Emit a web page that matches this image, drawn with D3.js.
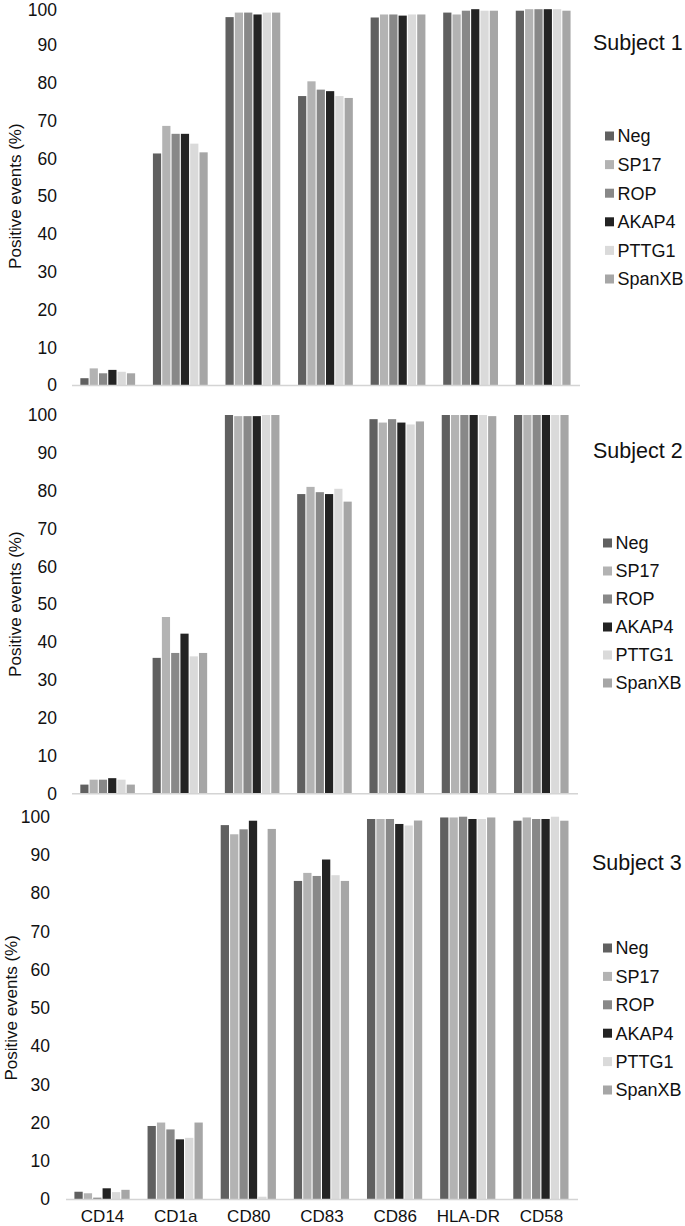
<!DOCTYPE html>
<html><head><meta charset="utf-8">
<script src="https://cdn.jsdelivr.net/npm/d3@7"></script>
<style>body{margin:0;background:#fff}svg{display:block;font-family:"Liberation Sans",Arial,sans-serif}</style>
</head><body><svg id="c" width="685" height="1226"></svg>
<script>
const categories = ["CD14","CD1a","CD80","CD83","CD86","HLA-DR","CD58"];
const series = ["Neg","SP17","ROP","AKAP4","PTTG1","SpanXB"];
const seriesColors = ["#606060","#b3b3b3","#888888","#232323","#dadada","#a6a6a6"];
const subjects = ["Subject 1","Subject 2","Subject 3"];
const yTicks = [0,10,20,30,40,50,60,70,80,90,100];
// values: rows = categories, columns = series
const subject1 = [
  [1.8,4.4,3.1,4.0,3.5,3.1],
  [61.3,68.6,66.5,66.5,63.9,61.6],
  [97.4,98.6,98.6,98.1,98.6,98.6],
  [76.5,80.4,78.2,77.8,76.5,76.0],
  [97.3,98.1,98.1,97.8,98.1,98.1],
  [98.6,98.1,99.1,99.5,99.1,99.1],
  [99.1,99.5,99.5,99.5,99.5,99.1]
];
const subject2 = [
  [2.3,3.6,3.6,4.0,3.6,2.3],
  [35.8,46.6,37.1,42.2,36.2,37.1],
  [100,99.7,99.7,99.7,100,100],
  [79.1,81.0,79.6,79.1,80.5,77.1],
  [98.9,98.0,98.9,98.0,97.5,98.3],
  [100,100,100,100,100,99.7],
  [100,100,100,100,100,100]
];
const subject3 = [
  [1.9,1.5,0.35,2.8,1.8,2.4],
  [19.1,20.0,18.2,15.6,16.0,20.0],
  [97.8,95.4,96.7,98.95,0.6,96.8],
  [83.2,85.3,84.5,88.8,84.7,83.2],
  [99.4,99.4,99.4,98.1,97.7,99.0],
  [99.8,99.8,100,99.4,99.4,99.8],
  [98.95,99.8,99.4,99.4,100,98.95]
];
const allData = [subject1, subject2, subject3];

// layout per panel
const layout = [
  {x0:72,x1:580,y100:7.3,y0:385,tickX:57,titleX:15,subjX:593,subjY:42,legX:605,legY:136,legStep:28.6},
  {x0:72,x1:578,y100:415,y0:793.3,tickX:57,titleX:15,subjX:593,subjY:450,legX:603,legY:543,legStep:28},
  {x0:66,x1:578,y100:816.7,y0:1199,tickX:50,titleX:10.5,subjX:592,subjY:862,legX:603,legY:948,legStep:28.4}
];

const svg = d3.select("#c");
const color = d3.scaleOrdinal().domain(series).range(seriesColors);

layout.forEach((L, pi) => {
  const data = allData[pi];
  const g = svg.append("g");
  const x = d3.scaleBand().domain(categories).range([L.x0, L.x1]).paddingInner(0.23).paddingOuter(0.115);
  const xs = d3.scaleBand().domain(series).range([0, x.bandwidth()]);
  const y = d3.scaleLinear().domain([0,100]).range([L.y0, L.y100]);

  // y tick labels
  g.selectAll(".yt").data(yTicks).join("text")
    .attr("x", L.tickX).attr("y", d => Math.max(y(d), 9.5)).attr("dy","0.36em")
    .attr("text-anchor","end").attr("font-size",17.5).attr("fill","#111")
    .text(d => d);

  // axis title
  const cy = (L.y0 + L.y100)/2;
  g.append("text").attr("transform",`translate(${L.titleX},${cy}) rotate(-90)`)
    .attr("text-anchor","middle").attr("dy","0.36em").attr("font-size",17).attr("fill","#111")
    .text("Positive events (%)");

  // bars
  categories.forEach((cat, ci) => {
    g.selectAll(null).data(series).join("rect")
      .attr("x", s => x(cat) + xs(s))
      .attr("width", xs.bandwidth() - 1.1)
      .attr("y", (s, si) => y(data[ci][si]))
      .attr("height", (s, si) => y(0) - y(data[ci][si]))
      .attr("fill", s => color(s));
  });

  // baseline
  g.append("line").attr("x1", L.x0).attr("x2", L.x1).attr("y1", y(0)+0.5).attr("y2", y(0)+0.5)
    .attr("stroke","#d4d4d4").attr("stroke-width",1.6);

  // subject title
  g.append("text").attr("x", L.subjX).attr("y", L.subjY).attr("dy","0.36em")
    .attr("font-size",21.5).attr("fill","#111").text(subjects[pi]);

  // legend
  const lg = g.selectAll(".lg").data(series).join("g")
    .attr("transform",(d,i)=>`translate(${L.legX},${L.legY + i*L.legStep})`);
  lg.append("rect").attr("x",0).attr("y",-4.5).attr("width",9).attr("height",9).attr("fill", d=>color(d));
  lg.append("text").attr("x",12.5).attr("y",0).attr("dy","0.36em").attr("font-size",18).attr("fill","#111").text(d=>d);

  // category labels on last panel
  if (pi === 2) {
    g.selectAll(".xl").data(categories).join("text")
      .attr("x", d => x(d) + x.bandwidth()/2).attr("y", 1215.5).attr("dy","0.36em")
      .attr("text-anchor","middle").attr("font-size",17).attr("fill","#111").text(d=>d);
  }
});
</script></body></html>
